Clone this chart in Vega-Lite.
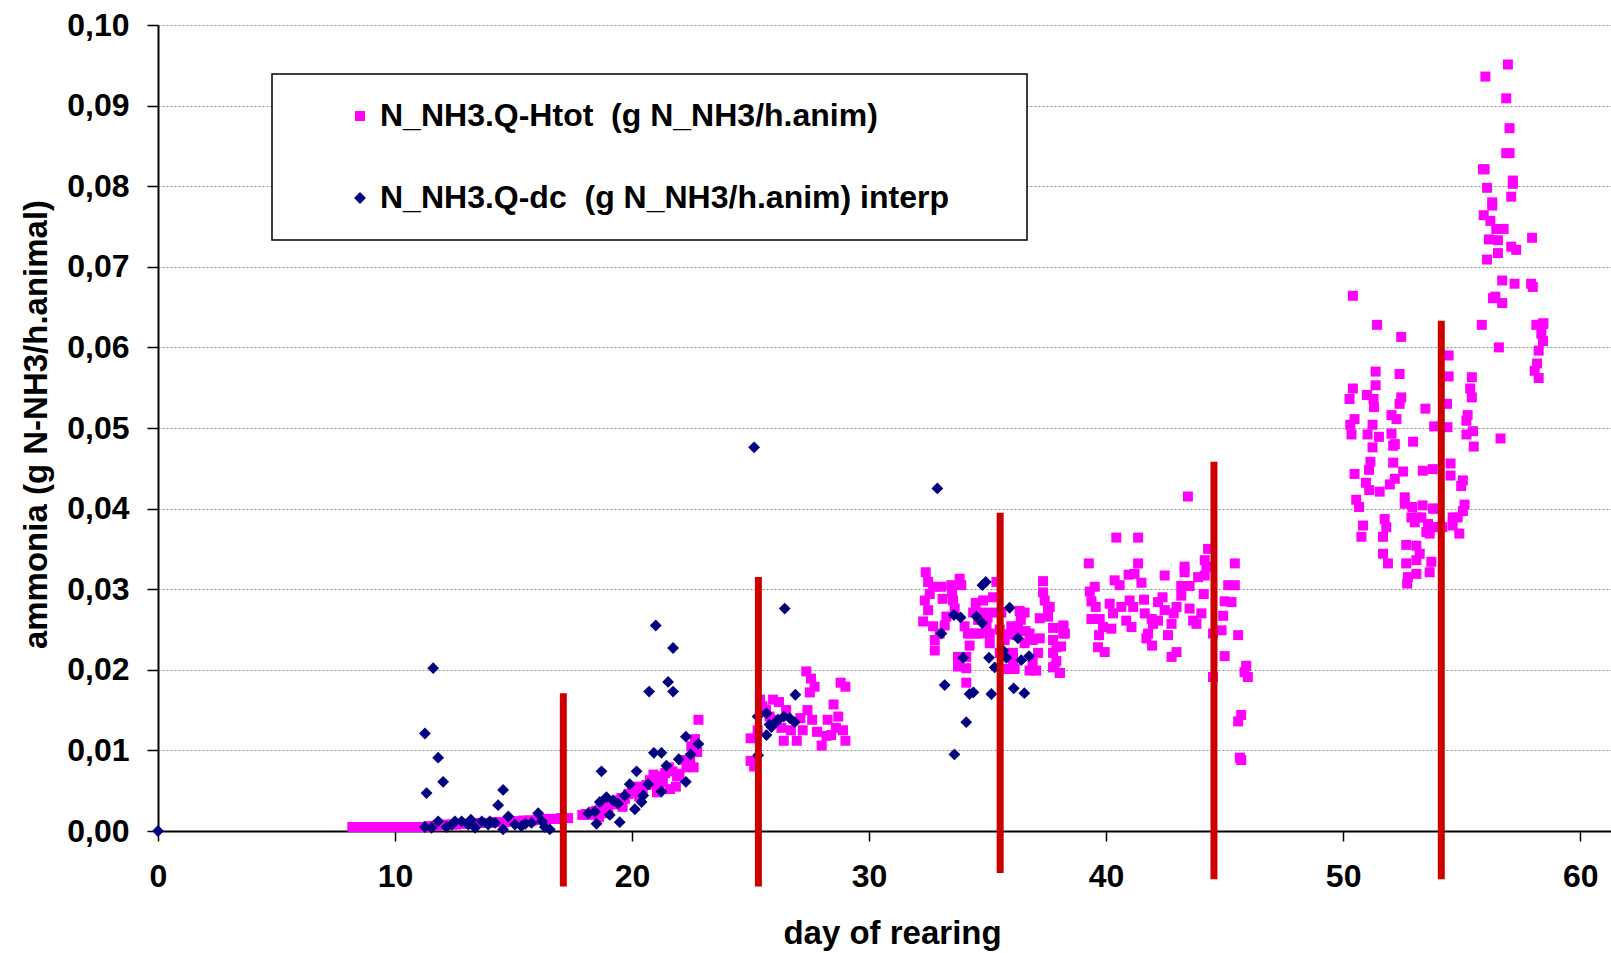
{
  "$schema": "https://vega.github.io/schema/vega-lite/v6.json",
  "width": 1453,
  "height": 806,
  "autosize": {"type": "none"},
  "padding": {"left": 158, "top": 25, "right": 0, "bottom": 122},
  "background": "white",
  "config": {
    "view": {"stroke": null},
    "font": "Liberation Sans",
    "axis": {
      "tickColor": "black", "tickWidth": 1.5,
      "domainColor": "black", "domainWidth": 2,
      "labelFont": "Liberation Sans", "labelFontSize": 32, "labelFontWeight": "bold", "labelColor": "black",
      "labelFlush": false, "labelOverlap": false,
      "titleFont": "Liberation Sans", "titleFontSize": 33, "titleFontWeight": "bold", "titleColor": "black"
    },
    "axisX": {
      "grid": false,
      "tickSize": 10,
      "labelPadding": 20,
      "titlePadding": 25,
      "titleX": 734
    },
    "axisY": {
      "labelExpr": "replace(format(datum.value, '.2f'), '.', ',')",
      "grid": true, "gridColor": "#8a8a8a", "gridDash": [2, 2], "gridWidth": 1,
      "tickSize": 11,
      "labelPadding": 18,
      "titlePadding": 13,
      "titleY": 399
    },
    "legend": {
      "orient": "none",
      "legendX": 114,
      "legendY": 49,
      "strokeColor": "black",
      "strokeWidth": 1.5,
      "fillColor": "white",
      "padding": 26,
      "labelFont": "Liberation Sans",
      "labelFontSize": 32,
      "labelFontWeight": "bold",
      "labelColor": "black",
      "labelLimit": 2000,
      "symbolSize": 80,
      "symbolStrokeWidth": 0,
      "rowPadding": 50,
      "symbolOffset": 46,
      "labelOffset": 4,
      "titleOrient": "right",
      "titlePadding": 52,
      "titleFontSize": 32
    }
  },
  "layer": [
    {
      "data": {
        "values": [
          {"d":8.2,"v":0.0005,"s":"H"},{"d":8.4,"v":0.0005,"s":"H"},{"d":8.6,"v":0.0005,"s":"H"},{"d":8.8,"v":0.0005,"s":"H"},{"d":9.0,"v":0.0005,"s":"H"},{"d":9.2,"v":0.0005,"s":"H"},{"d":9.4,"v":0.0005,"s":"H"},{"d":9.6,"v":0.0005,"s":"H"},{"d":9.8,"v":0.0005,"s":"H"},{"d":10.0,"v":0.0005,"s":"H"},{"d":10.2,"v":0.0005,"s":"H"},{"d":10.4,"v":0.0005,"s":"H"},{"d":10.6,"v":0.0005,"s":"H"},{"d":10.8,"v":0.0005,"s":"H"},{"d":11.0,"v":0.0005,"s":"H"},{"d":11.2,"v":0.0005,"s":"H"},
          {"d":11.4,"v":0.0006,"s":"H"},{"d":11.6,"v":0.0006,"s":"H"},{"d":11.8,"v":0.0007,"s":"H"},{"d":12.0,"v":0.0007,"s":"H"},{"d":12.2,"v":0.0008,"s":"H"},{"d":12.4,"v":0.0008,"s":"H"},{"d":12.6,"v":0.0008,"s":"H"},{"d":12.8,"v":0.0009,"s":"H"},{"d":13.0,"v":0.0009,"s":"H"},{"d":13.2,"v":0.0009,"s":"H"},{"d":13.4,"v":0.001,"s":"H"},{"d":13.6,"v":0.001,"s":"H"},{"d":13.8,"v":0.001,"s":"H"},{"d":14.0,"v":0.001,"s":"H"},{"d":14.2,"v":0.0011,"s":"H"},{"d":14.4,"v":0.0011,"s":"H"},{"d":14.6,"v":0.0011,"s":"H"},{"d":14.8,"v":0.0012,"s":"H"},{"d":15.0,"v":0.0012,"s":"H"},{"d":15.2,"v":0.0012,"s":"H"},{"d":15.4,"v":0.0013,"s":"H"},{"d":15.6,"v":0.0013,"s":"H"},{"d":15.8,"v":0.0013,"s":"H"},{"d":16.0,"v":0.0014,"s":"H"},{"d":16.2,"v":0.0014,"s":"H"},{"d":16.4,"v":0.0015,"s":"H"},{"d":16.6,"v":0.0015,"s":"H"},{"d":16.8,"v":0.0015,"s":"H"},{"d":17.0,"v":0.0016,"s":"H"},{"d":17.3,"v":0.0016,"s":"H"},
          {"d":17.9,"v":0.002,"s":"H"},{"d":18.05,"v":0.0021,"s":"H"},{"d":18.2,"v":0.002,"s":"H"},{"d":18.35,"v":0.0024,"s":"H"},{"d":18.5,"v":0.0025,"s":"H"},{"d":18.65,"v":0.0027,"s":"H"},{"d":18.8,"v":0.0029,"s":"H"},{"d":18.95,"v":0.0031,"s":"H"},{"d":19.1,"v":0.0034,"s":"H"},{"d":19.25,"v":0.0033,"s":"H"},{"d":19.4,"v":0.0038,"s":"H"},{"d":19.55,"v":0.0041,"s":"H"},{"d":19.7,"v":0.004,"s":"H"},{"d":19.85,"v":0.0046,"s":"H"},{"d":20.0,"v":0.005,"s":"H"},{"d":20.15,"v":0.0048,"s":"H"},{"d":20.3,"v":0.0043,"s":"H"},{"d":20.45,"v":0.0052,"s":"H"},{"d":20.6,"v":0.0057,"s":"H"},{"d":20.75,"v":0.0063,"s":"H"},{"d":20.9,"v":0.007,"s":"H"},{"d":21.05,"v":0.0048,"s":"H"},{"d":21.1,"v":0.0066,"s":"H"},{"d":21.25,"v":0.0068,"s":"H"},{"d":21.4,"v":0.0072,"s":"H"},{"d":21.55,"v":0.0079,"s":"H"},{"d":21.7,"v":0.0074,"s":"H"},{"d":21.85,"v":0.0055,"s":"H"},{"d":21.9,"v":0.0068,"s":"H"},{"d":22.0,"v":0.0071,"s":"H"},{"d":22.15,"v":0.0088,"s":"H"},{"d":22.3,"v":0.0079,"s":"H"},{"d":22.45,"v":0.009,"s":"H"},{"d":22.5,"v":0.0105,"s":"H"},{"d":22.6,"v":0.0079,"s":"H"},{"d":22.65,"v":0.0114,"s":"H"},{"d":22.8,"v":0.0138,"s":"H"},{"d":22.75,"v":0.0098,"s":"H"},{"d":18.6,"v":0.0017,"s":"H"},{"d":19.0,"v":0.0022,"s":"H"},{"d":19.6,"v":0.003,"s":"H"},{"d":20.2,"v":0.0055,"s":"H"},{"d":20.9,"v":0.0058,"s":"H"},{"d":21.3,"v":0.006,"s":"H"},{"d":21.6,"v":0.0052,"s":"H"},
          {"d":25.0,"v":0.0115,"s":"H"},{"d":25.0,"v":0.0087,"s":"H"},{"d":25.15,"v":0.008,"s":"H"},{"d":25.4,"v":0.0163,"s":"H"},{"d":25.65,"v":0.015,"s":"H"},{"d":25.95,"v":0.0163,"s":"H"},{"d":25.8,"v":0.0142,"s":"H"},{"d":26.2,"v":0.016,"s":"H"},{"d":26.1,"v":0.0138,"s":"H"},{"d":26.5,"v":0.015,"s":"H"},{"d":26.7,"v":0.0125,"s":"H"},{"d":26.4,"v":0.0112,"s":"H"},{"d":26.95,"v":0.0112,"s":"H"},{"d":27.2,"v":0.0125,"s":"H"},{"d":27.4,"v":0.015,"s":"H"},{"d":27.35,"v":0.0198,"s":"H"},{"d":27.55,"v":0.0189,"s":"H"},{"d":27.7,"v":0.0179,"s":"H"},{"d":27.5,"v":0.0172,"s":"H"},{"d":27.6,"v":0.0138,"s":"H"},{"d":27.8,"v":0.0123,"s":"H"},{"d":28.0,"v":0.0106,"s":"H"},{"d":28.25,"v":0.0138,"s":"H"},{"d":28.5,"v":0.0157,"s":"H"},{"d":28.4,"v":0.0119,"s":"H"},{"d":28.7,"v":0.0142,"s":"H"},{"d":28.8,"v":0.0184,"s":"H"},{"d":29.0,"v":0.0179,"s":"H"},{"d":28.9,"v":0.0125,"s":"H"},{"d":29.0,"v":0.0112,"s":"H"},{"d":28.6,"v":0.0128,"s":"H"},{"d":28.2,"v":0.0118,"s":"H"},{"d":27.1,"v":0.014,"s":"H"},{"d":26.3,"v":0.0128,"s":"H"},{"d":25.5,"v":0.0155,"s":"H"},{"d":25.3,"v":0.0125,"s":"H"},
          {"d":32.39,"v":0.0321,"s":"H"},{"d":32.49,"v":0.0309,"s":"H"},{"d":32.7,"v":0.0303,"s":"H"},{"d":33.05,"v":0.0303,"s":"H"},{"d":33.47,"v":0.0305,"s":"H"},{"d":33.82,"v":0.0313,"s":"H"},{"d":33.89,"v":0.0305,"s":"H"},{"d":32.35,"v":0.0286,"s":"H"},{"d":32.56,"v":0.0294,"s":"H"},{"d":32.49,"v":0.0274,"s":"H"},{"d":32.28,"v":0.026,"s":"H"},{"d":32.7,"v":0.0254,"s":"H"},{"d":32.77,"v":0.0237,"s":"H"},{"d":32.77,"v":0.0224,"s":"H"},{"d":33.54,"v":0.0286,"s":"H"},{"d":33.61,"v":0.0276,"s":"H"},{"d":33.26,"v":0.0266,"s":"H"},{"d":33.19,"v":0.0255,"s":"H"},{"d":32.98,"v":0.0245,"s":"H"},{"d":34.03,"v":0.0254,"s":"H"},{"d":34.17,"v":0.0245,"s":"H"},{"d":34.24,"v":0.023,"s":"H"},{"d":33.75,"v":0.0216,"s":"H"},{"d":34.1,"v":0.0216,"s":"H"},{"d":33.75,"v":0.0204,"s":"H"},{"d":34.1,"v":0.0202,"s":"H"},{"d":34.1,"v":0.0184,"s":"H"},{"d":34.5,"v":0.0283,"s":"H"},{"d":34.81,"v":0.0271,"s":"H"},{"d":34.39,"v":0.0271,"s":"H"},{"d":34.67,"v":0.0245,"s":"H"},{"d":34.95,"v":0.0254,"s":"H"},{"d":35.09,"v":0.0245,"s":"H"},{"d":35.09,"v":0.0233,"s":"H"},{"d":35.23,"v":0.029,"s":"H"},{"d":35.37,"v":0.0309,"s":"H"},{"d":35.58,"v":0.0271,"s":"H"},{"d":36.0,"v":0.0254,"s":"H"},{"d":36.28,"v":0.0254,"s":"H"},{"d":36.35,"v":0.0273,"s":"H"},{"d":36.56,"v":0.0271,"s":"H"},{"d":36.21,"v":0.0243,"s":"H"},{"d":36.56,"v":0.0233,"s":"H"},{"d":36.77,"v":0.0245,"s":"H"},{"d":36.9,"v":0.0237,"s":"H"},{"d":37.2,"v":0.0239,"s":"H"},{"d":37.13,"v":0.0221,"s":"H"},{"d":37.34,"v":0.031,"s":"H"},{"d":37.34,"v":0.0296,"s":"H"},{"d":37.41,"v":0.0286,"s":"H"},{"d":37.55,"v":0.0278,"s":"H"},{"d":37.55,"v":0.0266,"s":"H"},{"d":37.2,"v":0.0264,"s":"H"},{"d":37.76,"v":0.0252,"s":"H"},{"d":38.2,"v":0.0254,"s":"H"},{"d":38.26,"v":0.0245,"s":"H"},{"d":37.76,"v":0.0237,"s":"H"},{"d":38.1,"v":0.0229,"s":"H"},{"d":37.76,"v":0.0221,"s":"H"},{"d":37.9,"v":0.0211,"s":"H"},{"d":37.76,"v":0.0203,"s":"H"},{"d":38.04,"v":0.0196,"s":"H"},{"d":36.9,"v":0.0209,"s":"H"},{"d":37.05,"v":0.0199,"s":"H"},{"d":36.77,"v":0.0199,"s":"H"},{"d":36.07,"v":0.0209,"s":"H"},{"d":36.14,"v":0.0201,"s":"H"},{"d":35.79,"v":0.0201,"s":"H"},{"d":35.86,"v":0.0221,"s":"H"},{"d":35.72,"v":0.0237,"s":"H"},{"d":35.51,"v":0.0221,"s":"H"},{"d":36.07,"v":0.0221,"s":"H"},{"d":35.51,"v":0.025,"s":"H"},{"d":35.23,"v":0.0271,"s":"H"},{"d":34.81,"v":0.0286,"s":"H"},{"d":34.53,"v":0.0245,"s":"H"},{"d":34.24,"v":0.0245,"s":"H"},{"d":33.1,"v":0.0288,"s":"H"},{"d":33.5,"v":0.0296,"s":"H"},{"d":34.6,"v":0.0262,"s":"H"},{"d":35.0,"v":0.0265,"s":"H"},{"d":36.4,"v":0.0262,"s":"H"},{"d":36.6,"v":0.0248,"s":"H"},{"d":35.9,"v":0.0244,"s":"H"},{"d":37.62,"v":0.0278,"s":"H"},
          {"d":39.27,"v":0.0332,"s":"H"},{"d":40.43,"v":0.0364,"s":"H"},{"d":41.35,"v":0.0364,"s":"H"},{"d":41.35,"v":0.0332,"s":"H"},{"d":40.36,"v":0.0311,"s":"H"},{"d":40.57,"v":0.0305,"s":"H"},{"d":40.95,"v":0.0318,"s":"H"},{"d":41.2,"v":0.0319,"s":"H"},{"d":41.49,"v":0.0308,"s":"H"},{"d":42.47,"v":0.0317,"s":"H"},{"d":43.31,"v":0.0328,"s":"H"},{"d":43.31,"v":0.0321,"s":"H"},{"d":43.45,"v":0.0415,"s":"H"},{"d":43.88,"v":0.0315,"s":"H"},{"d":44.16,"v":0.0336,"s":"H"},{"d":44.3,"v":0.035,"s":"H"},{"d":44.23,"v":0.0328,"s":"H"},{"d":44.16,"v":0.0317,"s":"H"},{"d":39.31,"v":0.0297,"s":"H"},{"d":39.52,"v":0.0303,"s":"H"},{"d":39.38,"v":0.0285,"s":"H"},{"d":39.56,"v":0.0278,"s":"H"},{"d":39.38,"v":0.0263,"s":"H"},{"d":39.73,"v":0.0263,"s":"H"},{"d":39.87,"v":0.0253,"s":"H"},{"d":39.7,"v":0.0243,"s":"H"},{"d":40.22,"v":0.0251,"s":"H"},{"d":40.15,"v":0.0282,"s":"H"},{"d":40.29,"v":0.027,"s":"H"},{"d":40.64,"v":0.0278,"s":"H"},{"d":40.99,"v":0.0286,"s":"H"},{"d":41.14,"v":0.0278,"s":"H"},{"d":40.85,"v":0.0261,"s":"H"},{"d":41.07,"v":0.0253,"s":"H"},{"d":41.6,"v":0.0287,"s":"H"},{"d":41.63,"v":0.027,"s":"H"},{"d":41.92,"v":0.0263,"s":"H"},{"d":41.98,"v":0.0257,"s":"H"},{"d":41.77,"v":0.0245,"s":"H"},{"d":41.7,"v":0.0239,"s":"H"},{"d":41.94,"v":0.023,"s":"H"},{"d":42.19,"v":0.0284,"s":"H"},{"d":42.38,"v":0.029,"s":"H"},{"d":42.19,"v":0.0261,"s":"H"},{"d":42.47,"v":0.0274,"s":"H"},{"d":42.76,"v":0.0257,"s":"H"},{"d":42.61,"v":0.0243,"s":"H"},{"d":42.97,"v":0.0278,"s":"H"},{"d":42.85,"v":0.027,"s":"H"},{"d":43.17,"v":0.0292,"s":"H"},{"d":43.17,"v":0.0304,"s":"H"},{"d":43.52,"v":0.0304,"s":"H"},{"d":43.52,"v":0.0276,"s":"H"},{"d":43.67,"v":0.0261,"s":"H"},{"d":43.81,"v":0.0257,"s":"H"},{"d":44.02,"v":0.027,"s":"H"},{"d":44.12,"v":0.0294,"s":"H"},{"d":39.66,"v":0.0228,"s":"H"},{"d":39.94,"v":0.0222,"s":"H"},{"d":42.76,"v":0.0216,"s":"H"},{"d":42.97,"v":0.0222,"s":"H"},{"d":38.19,"v":0.0255,"s":"H"},{"d":38.19,"v":0.0245,"s":"H"},{"d":37.9,"v":0.0228,"s":"H"},{"d":38.05,"v":0.0196,"s":"H"},{"d":37.83,"v":0.0204,"s":"H"},{"d":44.51,"v":0.0245,"s":"H"},{"d":44.87,"v":0.0249,"s":"H"},{"d":44.94,"v":0.0267,"s":"H"},{"d":45.0,"v":0.0285,"s":"H"},{"d":45.15,"v":0.0305,"s":"H"},{"d":45.43,"v":0.0305,"s":"H"},{"d":45.29,"v":0.0284,"s":"H"},{"d":45.43,"v":0.0332,"s":"H"},{"d":45.57,"v":0.0243,"s":"H"},{"d":45.0,"v":0.0217,"s":"H"},{"d":44.51,"v":0.0191,"s":"H"},{"d":45.91,"v":0.0205,"s":"H"},{"d":45.98,"v":0.0191,"s":"H"},{"d":45.84,"v":0.0197,"s":"H"},{"d":45.7,"v":0.0144,"s":"H"},{"d":45.57,"v":0.0136,"s":"H"},{"d":45.64,"v":0.0091,"s":"H"},{"d":45.7,"v":0.0088,"s":"H"},
          {"d":50.41,"v":0.0664,"s":"H"},{"d":51.43,"v":0.0628,"s":"H"},{"d":52.45,"v":0.0613,"s":"H"},{"d":55.85,"v":0.0628,"s":"H"},{"d":51.37,"v":0.057,"s":"H"},{"d":52.38,"v":0.0567,"s":"H"},{"d":51.37,"v":0.0553,"s":"H"},{"d":50.41,"v":0.0549,"s":"H"},{"d":50.27,"v":0.0536,"s":"H"},{"d":51.0,"v":0.0541,"s":"H"},{"d":51.28,"v":0.0536,"s":"H"},{"d":51.3,"v":0.0526,"s":"H"},{"d":52.45,"v":0.0538,"s":"H"},{"d":52.38,"v":0.053,"s":"H"},{"d":53.47,"v":0.0524,"s":"H"},{"d":54.45,"v":0.059,"s":"H"},{"d":54.45,"v":0.0564,"s":"H"},{"d":54.38,"v":0.053,"s":"H"},{"d":55.43,"v":0.0563,"s":"H"},{"d":55.36,"v":0.0549,"s":"H"},{"d":55.43,"v":0.0538,"s":"H"},{"d":50.48,"v":0.0511,"s":"H"},{"d":50.3,"v":0.0504,"s":"H"},{"d":50.35,"v":0.0492,"s":"H"},{"d":51.24,"v":0.0504,"s":"H"},{"d":52.04,"v":0.0516,"s":"H"},{"d":52.25,"v":0.0511,"s":"H"},{"d":53.84,"v":0.0502,"s":"H"},{"d":54.4,"v":0.0501,"s":"H"},{"d":55.25,"v":0.0516,"s":"H"},{"d":55.2,"v":0.0509,"s":"H"},{"d":55.48,"v":0.0496,"s":"H"},{"d":55.2,"v":0.0492,"s":"H"},{"d":55.51,"v":0.0477,"s":"H"},{"d":56.64,"v":0.0487,"s":"H"},{"d":51.03,"v":0.0492,"s":"H"},{"d":51.51,"v":0.0489,"s":"H"},{"d":51.24,"v":0.0476,"s":"H"},{"d":52.04,"v":0.0493,"s":"H"},{"d":52.18,"v":0.048,"s":"H"},{"d":52.11,"v":0.0478,"s":"H"},{"d":52.95,"v":0.0483,"s":"H"},{"d":51.15,"v":0.0458,"s":"H"},{"d":51.09,"v":0.0448,"s":"H"},{"d":50.48,"v":0.0443,"s":"H"},{"d":52.11,"v":0.0457,"s":"H"},{"d":52.53,"v":0.0446,"s":"H"},{"d":52.18,"v":0.0437,"s":"H"},{"d":51.97,"v":0.043,"s":"H"},{"d":53.36,"v":0.0447,"s":"H"},{"d":53.78,"v":0.0449,"s":"H"},{"d":54.53,"v":0.0456,"s":"H"},{"d":54.53,"v":0.0441,"s":"H"},{"d":55.05,"v":0.0435,"s":"H"},{"d":54.98,"v":0.0428,"s":"H"},{"d":50.96,"v":0.0432,"s":"H"},{"d":51.1,"v":0.0423,"s":"H"},{"d":51.54,"v":0.0421,"s":"H"},{"d":50.55,"v":0.0411,"s":"H"},{"d":50.67,"v":0.0402,"s":"H"},{"d":52.6,"v":0.0414,"s":"H"},{"d":52.6,"v":0.0406,"s":"H"},{"d":52.92,"v":0.0402,"s":"H"},{"d":53.35,"v":0.0404,"s":"H"},{"d":53.79,"v":0.04,"s":"H"},{"d":52.88,"v":0.0389,"s":"H"},{"d":53.09,"v":0.0389,"s":"H"},{"d":53.3,"v":0.0389,"s":"H"},{"d":53.02,"v":0.0383,"s":"H"},{"d":53.58,"v":0.0381,"s":"H"},{"d":53.65,"v":0.0369,"s":"H"},{"d":53.86,"v":0.0377,"s":"H"},{"d":53.51,"v":0.0371,"s":"H"},{"d":53.86,"v":0.04,"s":"H"},{"d":54.62,"v":0.0389,"s":"H"},{"d":54.83,"v":0.0389,"s":"H"},{"d":54.62,"v":0.0379,"s":"H"},{"d":55.12,"v":0.0405,"s":"H"},{"d":55.05,"v":0.0397,"s":"H"},{"d":54.9,"v":0.0369,"s":"H"},{"d":54.08,"v":0.0377,"s":"H"},{"d":54.19,"v":0.0377,"s":"H"},{"d":50.84,"v":0.0379,"s":"H"},{"d":50.77,"v":0.0365,"s":"H"},{"d":51.75,"v":0.0387,"s":"H"},{"d":51.82,"v":0.0377,"s":"H"},{"d":51.68,"v":0.0365,"s":"H"},{"d":51.68,"v":0.0344,"s":"H"},{"d":51.89,"v":0.0332,"s":"H"},{"d":52.66,"v":0.0355,"s":"H"},{"d":53.09,"v":0.0354,"s":"H"},{"d":52.66,"v":0.0332,"s":"H"},{"d":53.09,"v":0.0336,"s":"H"},{"d":53.23,"v":0.0344,"s":"H"},{"d":53.09,"v":0.0319,"s":"H"},{"d":53.65,"v":0.0321,"s":"H"},{"d":53.72,"v":0.0334,"s":"H"},{"d":52.73,"v":0.0315,"s":"H"},{"d":52.7,"v":0.0307,"s":"H"},
          {"d":56.95,"v":0.0951,"s":"H"},{"d":56.0,"v":0.0936,"s":"H"},{"d":56.88,"v":0.0909,"s":"H"},{"d":57.02,"v":0.0872,"s":"H"},{"d":56.88,"v":0.0841,"s":"H"},{"d":57.02,"v":0.0841,"s":"H"},{"d":55.97,"v":0.0821,"s":"H"},{"d":55.9,"v":0.0821,"s":"H"},{"d":56.07,"v":0.0798,"s":"H"},{"d":57.16,"v":0.0807,"s":"H"},{"d":57.16,"v":0.0803,"s":"H"},{"d":57.09,"v":0.0787,"s":"H"},{"d":56.29,"v":0.078,"s":"H"},{"d":56.29,"v":0.0776,"s":"H"},{"d":55.93,"v":0.0764,"s":"H"},{"d":56.21,"v":0.0757,"s":"H"},{"d":56.46,"v":0.0747,"s":"H"},{"d":56.77,"v":0.0747,"s":"H"},{"d":56.15,"v":0.0734,"s":"H"},{"d":56.53,"v":0.0733,"s":"H"},{"d":57.09,"v":0.0725,"s":"H"},{"d":57.3,"v":0.0721,"s":"H"},{"d":56.53,"v":0.0717,"s":"H"},{"d":56.07,"v":0.0709,"s":"H"},{"d":57.97,"v":0.0736,"s":"H"},{"d":56.71,"v":0.0683,"s":"H"},{"d":57.23,"v":0.0679,"s":"H"},{"d":57.93,"v":0.0679,"s":"H"},{"d":58.0,"v":0.0675,"s":"H"},{"d":56.42,"v":0.0663,"s":"H"},{"d":56.32,"v":0.0661,"s":"H"},{"d":56.71,"v":0.0655,"s":"H"},{"d":58.43,"v":0.0629,"s":"H"},{"d":58.15,"v":0.0628,"s":"H"},{"d":58.36,"v":0.0617,"s":"H"},{"d":58.43,"v":0.0608,"s":"H"},{"d":56.57,"v":0.06,"s":"H"},{"d":58.25,"v":0.0596,"s":"H"},{"d":58.18,"v":0.058,"s":"H"},{"d":58.08,"v":0.0571,"s":"H"},{"d":58.25,"v":0.0562,"s":"H"},{"d":58.45,"v":0.063,"s":"H"},
          {"d":0,"v":0,"s":"D"},
          {"d":11.26,"v":0.0121,"s":"D"},{"d":11.61,"v":0.0202,"s":"D"},{"d":11.82,"v":0.0091,"s":"D"},{"d":12.03,"v":0.0061,"s":"D"},{"d":11.33,"v":0.0047,"s":"D"},{"d":14.56,"v":0.0051,"s":"D"},{"d":14.35,"v":0.0032,"s":"D"},{"d":14.78,"v":0.0018,"s":"D"},{"d":11.26,"v":0.0005,"s":"D"},{"d":11.54,"v":0.0004,"s":"D"},{"d":11.82,"v":0.0012,"s":"D"},{"d":12.17,"v":0.0005,"s":"D"},{"d":12.53,"v":0.0012,"s":"D"},{"d":12.81,"v":0.0012,"s":"D"},{"d":13.09,"v":0.0008,"s":"D"},{"d":13.38,"v":0.0004,"s":"D"},{"d":13.66,"v":0.0012,"s":"D"},{"d":13.93,"v":0.0008,"s":"D"},{"d":14.22,"v":0.001,"s":"D"},{"d":14.56,"v":0.0002,"s":"D"},{"d":15.06,"v":0.0008,"s":"D"},{"d":15.33,"v":0.0006,"s":"D"},{"d":15.76,"v":0.001,"s":"D"},{"d":16.04,"v":0.0022,"s":"D"},{"d":16.32,"v":0.0005,"s":"D"},{"d":16.53,"v":0.0002,"s":"D"},{"d":16.2,"v":0.0012,"s":"D"},{"d":15.5,"v":0.0009,"s":"D"},{"d":12.4,"v":0.0008,"s":"D"},{"d":13.2,"v":0.0014,"s":"D"},{"d":14.0,"v":0.0012,"s":"D"},
          {"d":18.15,"v":0.0022,"s":"D"},{"d":18.43,"v":0.0024,"s":"D"},{"d":18.5,"v":0.0009,"s":"D"},{"d":18.64,"v":0.0036,"s":"D"},{"d":18.71,"v":0.0074,"s":"D"},{"d":18.92,"v":0.0042,"s":"D"},{"d":19.06,"v":0.002,"s":"D"},{"d":19.2,"v":0.0038,"s":"D"},{"d":19.48,"v":0.0011,"s":"D"},{"d":19.41,"v":0.0034,"s":"D"},{"d":19.69,"v":0.0044,"s":"D"},{"d":19.9,"v":0.0058,"s":"D"},{"d":20.12,"v":0.0027,"s":"D"},{"d":20.19,"v":0.0074,"s":"D"},{"d":20.4,"v":0.0036,"s":"D"},{"d":20.47,"v":0.0044,"s":"D"},{"d":20.68,"v":0.0058,"s":"D"},{"d":20.72,"v":0.0173,"s":"D"},{"d":21.0,"v":0.0255,"s":"D"},{"d":20.92,"v":0.0097,"s":"D"},{"d":21.24,"v":0.0097,"s":"D"},{"d":21.24,"v":0.0049,"s":"D"},{"d":21.45,"v":0.0081,"s":"D"},{"d":21.52,"v":0.0185,"s":"D"},{"d":21.73,"v":0.0227,"s":"D"},{"d":21.73,"v":0.0173,"s":"D"},{"d":21.97,"v":0.0089,"s":"D"},{"d":22.27,"v":0.0117,"s":"D"},{"d":22.27,"v":0.0061,"s":"D"},{"d":22.47,"v":0.0095,"s":"D"},{"d":22.8,"v":0.0108,"s":"D"},
          {"d":25.15,"v":0.0476,"s":"D"},{"d":26.44,"v":0.0276,"s":"D"},{"d":26.89,"v":0.0169,"s":"D"},{"d":25.32,"v":0.0094,"s":"D"},{"d":25.3,"v":0.0142,"s":"D"},{"d":25.67,"v":0.0146,"s":"D"},{"d":25.67,"v":0.0119,"s":"D"},{"d":25.88,"v":0.0129,"s":"D"},{"d":26.16,"v":0.0138,"s":"D"},{"d":26.4,"v":0.0142,"s":"D"},{"d":26.65,"v":0.014,"s":"D"},{"d":26.86,"v":0.0135,"s":"D"},{"d":25.8,"v":0.0132,"s":"D"},{"d":26.1,"v":0.0136,"s":"D"},
          {"d":32.88,"v":0.0425,"s":"D"},{"d":34.78,"v":0.0305,"s":"D"},{"d":34.92,"v":0.0309,"s":"D"},{"d":35.93,"v":0.0277,"s":"D"},{"d":33.58,"v":0.0268,"s":"D"},{"d":33.86,"v":0.0265,"s":"D"},{"d":34.53,"v":0.0266,"s":"D"},{"d":34.77,"v":0.0258,"s":"D"},{"d":33.05,"v":0.0245,"s":"D"},{"d":36.28,"v":0.0239,"s":"D"},{"d":33.97,"v":0.0215,"s":"D"},{"d":35.06,"v":0.0215,"s":"D"},{"d":35.3,"v":0.0203,"s":"D"},{"d":35.79,"v":0.0215,"s":"D"},{"d":36.42,"v":0.0212,"s":"D"},{"d":36.75,"v":0.0217,"s":"D"},{"d":33.19,"v":0.0181,"s":"D"},{"d":34.24,"v":0.017,"s":"D"},{"d":34.4,"v":0.0172,"s":"D"},{"d":35.16,"v":0.017,"s":"D"},{"d":36.1,"v":0.0177,"s":"D"},{"d":36.55,"v":0.0171,"s":"D"},{"d":35.65,"v":0.0224,"s":"D"},{"d":33.6,"v":0.0095,"s":"D"},{"d":34.1,"v":0.0135,"s":"D"}
        ]
      },
      "mark": {"type": "point", "filled": true, "opacity": 1, "strokeWidth": 0},
      "encoding": {
        "x": {
          "field": "d", "type": "quantitative",
          "scale": {"domain": [0, 61.3], "nice": false, "zero": false},
          "axis": {"title": "day of rearing", "values": [0, 10, 20, 30, 40, 50, 60], "format": "d"}
        },
        "y": {
          "field": "v", "type": "quantitative",
          "scale": {"domain": [0, 0.1], "nice": false},
          "axis": {"title": "ammonia (g N-NH3/h.animal)", "values": [0, 0.01, 0.02, 0.03, 0.04, 0.05, 0.06, 0.07, 0.08, 0.09, 0.1]}
        },
        "color": {
          "field": "s", "type": "nominal",
          "scale": {"domain": ["H", "D"], "range": ["#FF00FF", "#000080"]},
          "legend": {
            "title": "\u00a0",
            "labelExpr": "datum.value == 'H' ? 'N_NH3.Q-Htot\u00a0 (g N_NH3/h.anim)' : 'N_NH3.Q-dc\u00a0 (g N_NH3/h.anim) interp'"
          }
        },
        "shape": {
          "field": "s", "type": "nominal",
          "scale": {"domain": ["H", "D"], "range": ["square", "diamond"]},
          "legend": {
            "title": "\u00a0",
            "labelExpr": "datum.value == 'H' ? 'N_NH3.Q-Htot\u00a0 (g N_NH3/h.anim)' : 'N_NH3.Q-dc\u00a0 (g N_NH3/h.anim) interp'"
          }
        },
        "size": {
          "field": "s", "type": "nominal",
          "scale": {"domain": ["H", "D"], "range": [100, 140]},
          "legend": null
        }
      }
    },
    {
      "data": {
        "values": [
          {"d": 17.1, "top": 0.0171, "bottom": -0.0069},
          {"d": 25.33, "top": 0.0315, "bottom": -0.0069},
          {"d": 35.53, "top": 0.0395, "bottom": -0.0052},
          {"d": 44.55, "top": 0.0458, "bottom": -0.006},
          {"d": 54.14, "top": 0.0633, "bottom": -0.006}
        ]
      },
      "mark": {"type": "rule", "color": "#CC0000", "strokeWidth": 7},
      "encoding": {
        "x": {"field": "d", "type": "quantitative", "scale": {"domain": [0, 61.3], "nice": false, "zero": false}, "axis": {"title": "day of rearing", "values": [0, 10, 20, 30, 40, 50, 60], "format": "d"}},
        "y": {"field": "top", "type": "quantitative", "scale": {"domain": [0, 0.1], "nice": false}, "axis": {"title": "ammonia (g N-NH3/h.animal)", "values": [0, 0.01, 0.02, 0.03, 0.04, 0.05, 0.06, 0.07, 0.08, 0.09, 0.1]}},
        "y2": {"field": "bottom"}
      }
    }
  ]
}
